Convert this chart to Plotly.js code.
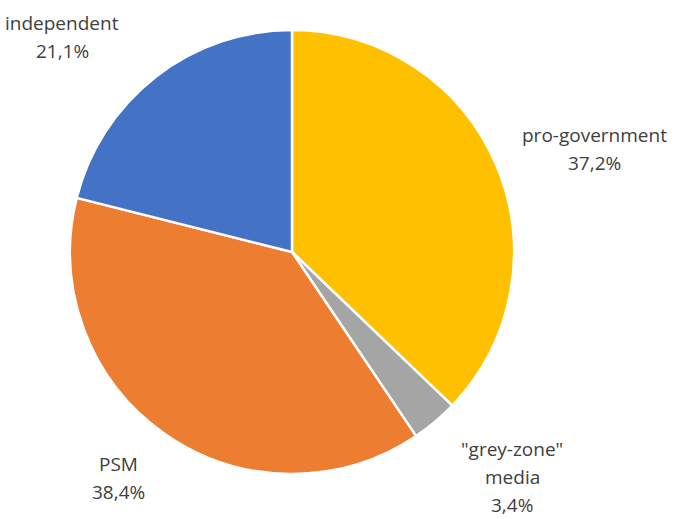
<!DOCTYPE html>
<html>
<head>
<meta charset="utf-8">
<script src="https://cdn.plot.ly/plotly-3.0.1.min.js"></script>
<style>html,body{margin:0;padding:0;background:#fff;}#chart{width:679px;height:519px;}</style>
</head>
<body>
<div id="chart"></div>
<script>
const categories = ['pro-government', '"grey-zone"<br>media', 'PSM', 'independent'];
const values = [37.2, 3.4, 38.4, 21.1];
const colors = ['#FFC000', '#A5A5A5', '#ED7D31', '#4472C4'];

const W = 679, H = 519;
const cx = 292, cy = 252, r = 222;

// label positions in pixels (layout only): center x, first line center y
const labelPos = [
  {x: 594, y: 135},
  {x: 512, y: 449},
  {x: 118, y: 464},
  {x: 62, y: 23}
];
const lineGap = 28;

function fmt(v){ return v.toFixed(1).replace('.', ',') + '%'; }

const annotations = [];
categories.forEach((c, i) => {
  const lines = c.split('<br>').concat([fmt(values[i])]);
  lines.forEach((t, j) => {
    annotations.push({
      x: labelPos[i].x / W,
      y: 1 - (labelPos[i].y + j * lineGap) / H,
      xref: 'paper', yref: 'paper',
      xanchor: 'center', yanchor: 'middle',
      showarrow: false,
      text: t,
      font: {family: 'Open Sans, sans-serif', size: 19, color: '#404040'}
    });
  });
});

const trace = {
  type: 'pie',
  labels: categories,
  values: values,
  sort: false,
  direction: 'clockwise',
  rotation: 0,
  textinfo: 'none',
  hoverinfo: 'none',
  marker: {colors: colors, line: {color: '#ffffff', width: 2.5}},
  domain: {x: [(cx - r) / W, (cx + r) / W], y: [1 - (cy + r) / H, 1 - (cy - r) / H]}
};

const layout = {
  width: W, height: H,
  margin: {l: 0, r: 0, t: 0, b: 0},
  showlegend: false,
  paper_bgcolor: '#ffffff',
  annotations: annotations
};

Plotly.newPlot('chart', [trace], layout, {displayModeBar: false, staticPlot: true});
</script>
</body>
</html>
